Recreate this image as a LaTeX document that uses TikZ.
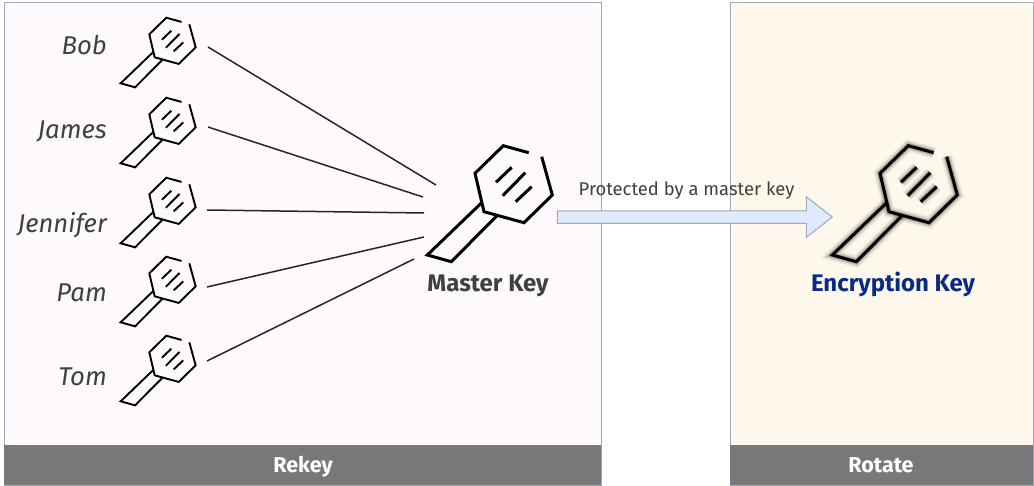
\documentclass[tikz,border=0pt]{standalone}
\usepackage{fontspec}
\setmainfont{Fira Sans}
\definecolor{panelA}{HTML}{FDF9FD}
\definecolor{panelB}{HTML}{FEF8EC}
\definecolor{edge}{HTML}{9FA9B8}
\definecolor{bar}{HTML}{787878}
\definecolor{arrowfill}{HTML}{DDEBFD}
\definecolor{ink}{HTML}{404040}
\definecolor{navy}{HTML}{0A2A88}
\tikzset{
  x=1pt,y=-1pt,
  panel/.style={draw=edge,line width=1.3pt},
  barbox/.style={fill=bar,draw=none},
  bartext/.style={text=white,font=\fontsize{21.5}{24}\selectfont\bfseries,inner sep=0pt,anchor=base},
  person/.style={font=\fontsize{25.7}{29}\selectfont\itshape\fontseries{l}\selectfont,text=ink,anchor=base east,inner sep=0pt},
  link/.style={draw=black!85,line width=1.5pt},
  keyline/.style={line cap=butt,line join=miter},
  keyname/.style={font=\fontsize{24}{27}\selectfont\bfseries,inner sep=0pt,anchor=base},
  pics/keyicon/.style={code={
    \path[pic actions,keyline]
      (53.7,-20.6)--(28.3,-27.6)--(0,0)--(9,38.4)--(49,49.4)--(77.3,21.7)--(66.7,-16.6);
    \path[pic actions,keyline]
      (6.7,29.4)--(-47.7,81.7)--(-23.7,88.4)--(21.7,42.7);
    \path[pic actions,keyline] (21,9)--(36.7,-6);
    \path[pic actions,keyline] (27.7,22.4)--(50.3,-0.6);
    \path[pic actions,keyline] (40.7,28.4)--(56.7,13.4);
  }}
}
\begin{document}
\begin{tikzpicture}
\useasboundingbox (0,0) rectangle (1034,486);
\fill[white] (0,0) rectangle (1034,486);
\node[panel,fill=panelA,minimum width=597pt,minimum height=483pt,inner sep=0pt,anchor=north west] (rekeyPanel) at (4,2) {};
\node[panel,fill=panelB,minimum width=303pt,minimum height=483pt,inner sep=0pt,anchor=north west] (rotatePanel) at (730,2) {};
\node[barbox,minimum width=597pt,minimum height=40pt,inner sep=0pt,anchor=north west] (rekeyBar) at (4,445) {};
\node[barbox,minimum width=303pt,minimum height=40pt,inner sep=0pt,anchor=north west] (rotateBar) at (730,445) {};
\node[bartext] (rekeyLabel) at (303,472.5) {Rekey};
\node[bartext] (rotateLabel) at (881,472.5) {Rotate};

\node[person] (bob) at (107,55) {Bob};
\node[person] (james) at (107,138.5) {James};
\node[person] (jennifer) at (107,233) {Jennifer};
\node[person] (pam) at (107,302) {Pam};
\node[person] (tom) at (107,385) {Tom};

\foreach \yy in {34.3,114.3,194.3,273.3,352.3}
  \pic[draw=black,line width=1.9pt,scale=.6,transform shape] at (149.3,\yy) {keyicon};

\pic[draw=black,line width=3pt] at (475,173.3) {keyicon};

% soft glow of the encryption key
\foreach \w/\o in {12/.05,10/.07,8/.10,6/.14,4.5/.2}
  \pic[draw=black!75!panelB,draw opacity=\o,line width=\w pt] at (880,173.3) {keyicon};
\pic[draw=black,line width=3pt] at (880,173.3) {keyicon};

\node[keyname,text=ink] (masterLabel) at (488,292) {Master Key};
\node[keyname,text=navy] (encLabel) at (893,292) {Encryption Key};

\coordinate (b0) at (208,47);  \coordinate (b1) at (436,185);
\coordinate (j0) at (208,127); \coordinate (j1) at (423,197);
\coordinate (n0) at (207,210); \coordinate (n1) at (424,213);
\coordinate (p0) at (207,287); \coordinate (p1) at (424,237);
\coordinate (t0) at (207,361); \coordinate (t1) at (414,259);
\draw[link] (b0)--(b1);
\draw[link] (j0)--(j1);
\draw[link] (n0)--(n1);
\draw[link] (p0)--(p1);
\draw[link] (t0)--(t1);

\draw[edge,fill=arrowfill,line width=1pt] (557.3,211)--(806.3,211)--(806.3,196.7)--(832.3,217)--(806.3,237.3)--(806.3,223.3)--(557.3,223.3)--cycle;
\node[font=\fontsize{18.4}{21}\selectfont\fontseries{l}\selectfont,text=ink,inner sep=0pt,anchor=base] (prot) at (686.5,195.5) {Protected by a master key};
\end{tikzpicture}
\end{document}
